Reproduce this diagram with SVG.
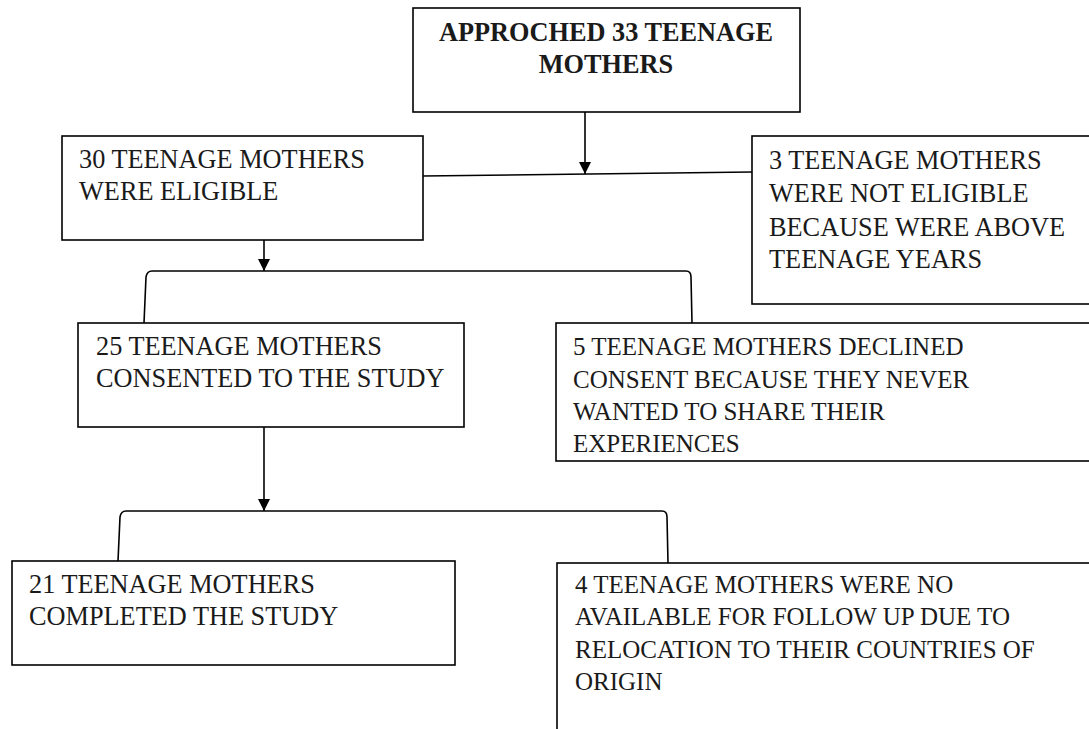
<svg xmlns="http://www.w3.org/2000/svg" width="1089" height="729" viewBox="0 0 1089 729">
<defs>
<style>
.box{fill:#fff;stroke:#000;stroke-width:1.6}
.t{font-family:"Liberation Serif","Times New Roman",serif;font-size:26.3px;fill:#1a1a1a}
.s{font-size:25px}
.b{font-weight:bold;text-anchor:middle}
.c{fill:none;stroke:#000;stroke-width:1.6}
</style>
<marker id="ah" viewBox="0 0 12 12" refX="12" refY="6" markerWidth="12" markerHeight="12" markerUnits="userSpaceOnUse" orient="auto">
<path d="M0,0 L12,6 L0,12 Z" fill="#000"/>
</marker>
</defs>
<rect width="1089" height="729" fill="#fff"/>
<g id="connectors">
<line class="c" x1="585" y1="112" x2="585" y2="174" marker-end="url(#ah)"/>
<line class="c" x1="423" y1="176" x2="752" y2="172"/>
<line class="c" x1="264" y1="240" x2="264" y2="271" marker-end="url(#ah)"/>
<path class="c" d="M144,323 L146,277 Q147,271 152,271 L686,271 Q691,271 691,277 L692,323"/>
<line class="c" x1="264" y1="427" x2="264" y2="511" marker-end="url(#ah)"/>
<path class="c" d="M118,561 L120,517 Q121,511 126,511 L662,511 Q667,511 667,517 L668,563"/>
</g>
<g id="n_approached">
<rect class="box" x="413" y="8" width="387" height="104"/>
<text class="t b" x="606" y="41">APPROCHED 33 TEENAGE</text>
<text class="t b" x="606" y="73">MOTHERS</text>
</g>
<g id="n_eligible">
<rect class="box" x="62" y="136" width="361" height="104"/>
<text class="t" x="79" y="168">30 TEENAGE MOTHERS</text>
<text class="t" x="79" y="200">WERE ELIGIBLE</text>
</g>
<g id="n_not_eligible">
<rect class="box" x="752" y="136" width="345" height="168"/>
<text class="t" x="769" y="169">3 TEENAGE MOTHERS</text>
<text class="t" x="769" y="202">WERE NOT ELIGIBLE</text>
<text class="t" x="769" y="236">BECAUSE WERE ABOVE</text>
<text class="t" x="769" y="268">TEENAGE YEARS</text>
</g>
<g id="n_consented">
<rect class="box" x="78" y="323" width="386" height="104"/>
<text class="t" x="96" y="355">25 TEENAGE MOTHERS</text>
<text class="t" x="96" y="387">CONSENTED TO THE STUDY</text>
</g>
<g id="n_declined">
<rect class="box" x="556" y="323" width="541" height="138"/>
<text class="t s" x="573" y="355">5 TEENAGE MOTHERS DECLINED</text>
<text class="t s" x="573" y="388">CONSENT BECAUSE THEY NEVER</text>
<text class="t s" x="573" y="420">WANTED TO SHARE THEIR</text>
<text class="t s" x="573" y="452">EXPERIENCES</text>
</g>
<g id="n_completed">
<rect class="box" x="12" y="561" width="443" height="104"/>
<text class="t" x="29" y="593">21 TEENAGE MOTHERS</text>
<text class="t" x="29" y="625">COMPLETED THE STUDY</text>
</g>
<g id="n_not_available">
<rect class="box" x="557" y="563" width="540" height="180"/>
<text class="t s" x="575" y="593">4 TEENAGE MOTHERS WERE NO</text>
<text class="t s" x="575" y="625">AVAILABLE FOR FOLLOW UP DUE TO</text>
<text class="t s" x="575" y="658">RELOCATION TO THEIR COUNTRIES OF</text>
<text class="t s" x="575" y="690">ORIGIN</text>
</g>
</svg>
